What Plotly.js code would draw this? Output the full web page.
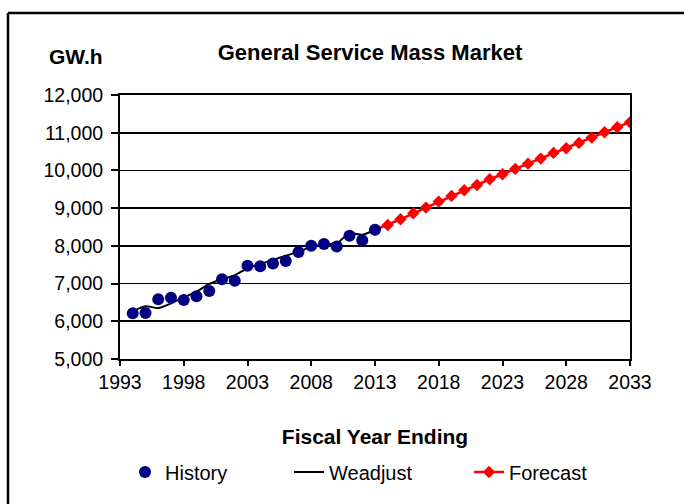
<!DOCTYPE html>
<html>
<head>
<meta charset="utf-8">
<script src="https://cdn.plot.ly/plotly-3.0.1.min.js"></script>
<style>
  html, body { margin: 0; padding: 0; background: #fff; overflow: hidden; }
  #chart { width: 684px; height: 504px; }
</style>
</head>
<body>
<div id="chart"></div>
<script>
// ---- data ----
const historyYears = [1994, 1995, 1996, 1997, 1998, 1999, 2000, 2001, 2002, 2003,
                      2004, 2005, 2006, 2007, 2008, 2009, 2010, 2011, 2012, 2013];
const historyValues = [6210, 6220, 6585, 6625, 6565, 6665, 6805, 7115, 7075, 7475,
                       7460, 7530, 7600, 7840, 8005, 8050, 7980, 8270, 8150, 8430];
const weadjustValues = [6260, 6400, 6350, 6475, 6635, 6785, 6990, 7115, 7220, 7405,
                        7520, 7625, 7740, 7840, 7980, 8040, 8070, 8335, 8295, 8430];
const forecastYears = [2013, 2014, 2015, 2016, 2017, 2018, 2019, 2020, 2021, 2022,
                       2023, 2024, 2025, 2026, 2027, 2028, 2029, 2030, 2031, 2032, 2033];
const forecastValues = [8422, 8554, 8705, 8864, 9014, 9173, 9324, 9474, 9615, 9766,
                        9899, 10040, 10180, 10313, 10464, 10588, 10729, 10870, 11013, 11146, 11278];
const seriesNames = ["History", "Weadjust", "Forecast"];
const chartTitle = "General Service Mass Market";
const yUnit = "GW.h";
const xTitle = "Fiscal Year Ending";

const FONT = "Liberation Sans, Arial, sans-serif";

const traces = [
  {
    x: forecastYears, y: forecastValues, name: seriesNames[2], type: "scatter",
    mode: "lines+markers", legend: "legend3",
    line: { color: "#FF0000", width: 2.5 },
    marker: { symbol: "diamond", size: 9.5, color: "#FF0000" }
  },
  {
    x: historyYears, y: weadjustValues, name: seriesNames[1], type: "scatter",
    mode: "lines", legend: "legend2",
    line: { color: "#000000", width: 2, shape: "spline", smoothing: 0.8 }
  },
  {
    x: historyYears, y: historyValues, name: seriesNames[0], type: "scatter",
    mode: "markers", legend: "legend",
    marker: { symbol: "circle", size: 12, color: "#000080" }
  }
];

const L = 120, R = 54, T = 95, B = 145, W = 684, H = 504;
const pw = W - L - R, ph = H - T - B;
const px2x = p => (p - L) / pw;
const py2y = p => (H - B - p) / ph;

const legendBase = {
  orientation: "h", yanchor: "middle", xanchor: "left",
  bgcolor: "rgba(0,0,0,0)", borderwidth: 0,
  font: { family: FONT, size: 20, color: "#000" }
};

const layout = {
  width: W, height: H,
  margin: { l: L, r: R, t: T, b: B, pad: 0 },
  paper_bgcolor: "#fff", plot_bgcolor: "#fff",
  font: { family: FONT, color: "#000" },
  title: {
    text: "<b>" + chartTitle + "</b>",
    font: { family: FONT, size: 22, color: "#000" },
    xref: "paper", x: px2x(370), xanchor: "center",
    yref: "container", y: 1 - 52 / H, yanchor: "middle"
  },
  xaxis: {
    range: [1993, 2033], tick0: 1993, dtick: 5, tickmode: "linear",
    showgrid: false, zeroline: false,
    showline: true, mirror: true, linecolor: "#000", linewidth: 2,
    ticks: "outside", ticklen: 5, tickwidth: 2, tickcolor: "#000",
    tickfont: { family: FONT, size: 19.5, color: "#000" },
    title: { text: "<b>" + xTitle + "</b>", font: { family: FONT, size: 21, color: "#000" }, standoff: 37 }
  },
  yaxis: {
    range: [5000, 12000], dtick: 1000, tick0: 5000, tickmode: "linear",
    tickformat: ",d",
    showgrid: true, gridcolor: "#000", gridwidth: 1.8, zeroline: false,
    showline: true, mirror: true, linecolor: "#000", linewidth: 2,
    ticks: "outside", ticklen: 7, tickwidth: 2, tickcolor: "#000",
    ticklabelstandoff: 4,
    tickfont: { family: FONT, size: 19.5, color: "#000" }
  },
  showlegend: true,
  legend: Object.assign({}, legendBase, { x: px2x(125), y: py2y(472) }),
  legend2: Object.assign({}, legendBase, { x: px2x(289), y: py2y(472) }),
  legend3: Object.assign({}, legendBase, { x: px2x(469), y: py2y(472) }),
  annotations: [
    {
      text: "<b>" + yUnit + "</b>", xref: "paper", yref: "paper",
      x: px2x(76), y: py2y(56), xanchor: "center", yanchor: "middle",
      showarrow: false, font: { family: FONT, size: 21, color: "#000" }
    }
  ],
  shapes: [
    { type: "line", xref: "paper", yref: "paper", x0: px2x(8), x1: px2x(700), y0: py2y(13), y1: py2y(13),
      line: { color: "#000", width: 2.5 } },
    { type: "line", xref: "paper", yref: "paper", x0: px2x(8), x1: px2x(8), y0: py2y(13), y1: py2y(520),
      line: { color: "#000", width: 2.5 } }
  ]
};

Plotly.newPlot("chart", traces, layout, { displayModeBar: false, staticPlot: true });
</script>
</body>
</html>
